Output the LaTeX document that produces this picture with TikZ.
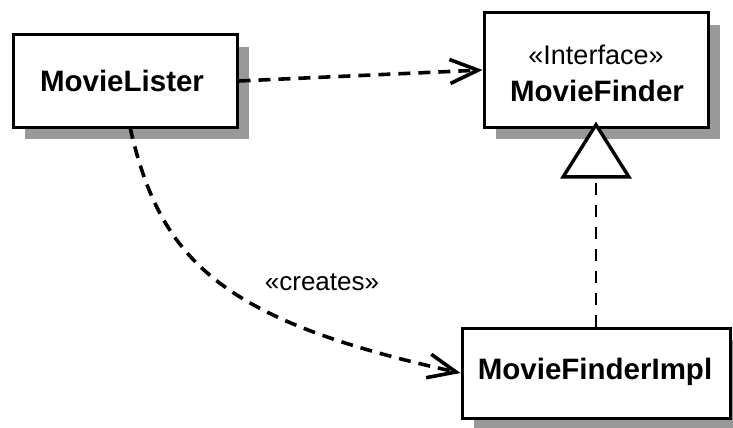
\documentclass[tikz,border=0pt]{standalone}
\usepackage{fontspec}
\setmainfont{Liberation Sans}
\usetikzlibrary{arrows.meta,shadows}
\begin{document}
\begin{tikzpicture}[x=1pt,y=-1pt,
  umlbox/.style={draw=black, line width=3pt, fill=white, inner sep=0pt,
    drop shadow={shadow xshift=12pt, shadow yshift=-12pt, fill=gray!80, opacity=1}},
  clsname/.style={font=\fontsize{29.5}{32}\selectfont\bfseries, inner sep=0pt},
  stereo/.style={font=\fontsize{27}{30}\selectfont, inner sep=0pt},
  depline/.style={line width=3.6pt, dash pattern=on 12pt off 8pt,
    -{Straight Barb[length=28pt,width=24pt,line width=3.6pt]}},
  genline/.style={line width=2.4pt, dash pattern=on 12pt off 10pt,
    -{Triangle[length=57pt,width=71pt,fill=white,line width=3.4pt]}}]
\useasboundingbox (0,0) rectangle (733,428);
\node[umlbox, minimum width=224pt, minimum height=92pt] (ML) at (125,81) {};
\node[clsname] (MLn) at (122,81) {MovieLister};
\node[umlbox, minimum width=224pt, minimum height=114pt] (MF) at (596,70) {};
\node[stereo] (MFs) at (596,55) {«Interface»};
\node[clsname] (MFn) at (597,91) {MovieFinder};
\node[umlbox, minimum width=268pt, minimum height=90pt] (MFI) at (596,373) {};
\node[clsname] (MFIn) at (595,372) {MovieFinderImpl};
\coordinate (MLb) at (130,127);
\coordinate (MFIw) at (MFI.west);
\draw[depline] (ML.east) -- (MF.west);
\draw[depline] (MLb) .. controls (160,260) and (220,320) .. (MFIw);
\node[stereo, font=\fontsize{26}{28}\selectfont] (cr) at (322,282) {«creates»};
\draw[genline, shorten >=-7pt] (MFI.north) -- (MF.south);
\end{tikzpicture}
\end{document}
